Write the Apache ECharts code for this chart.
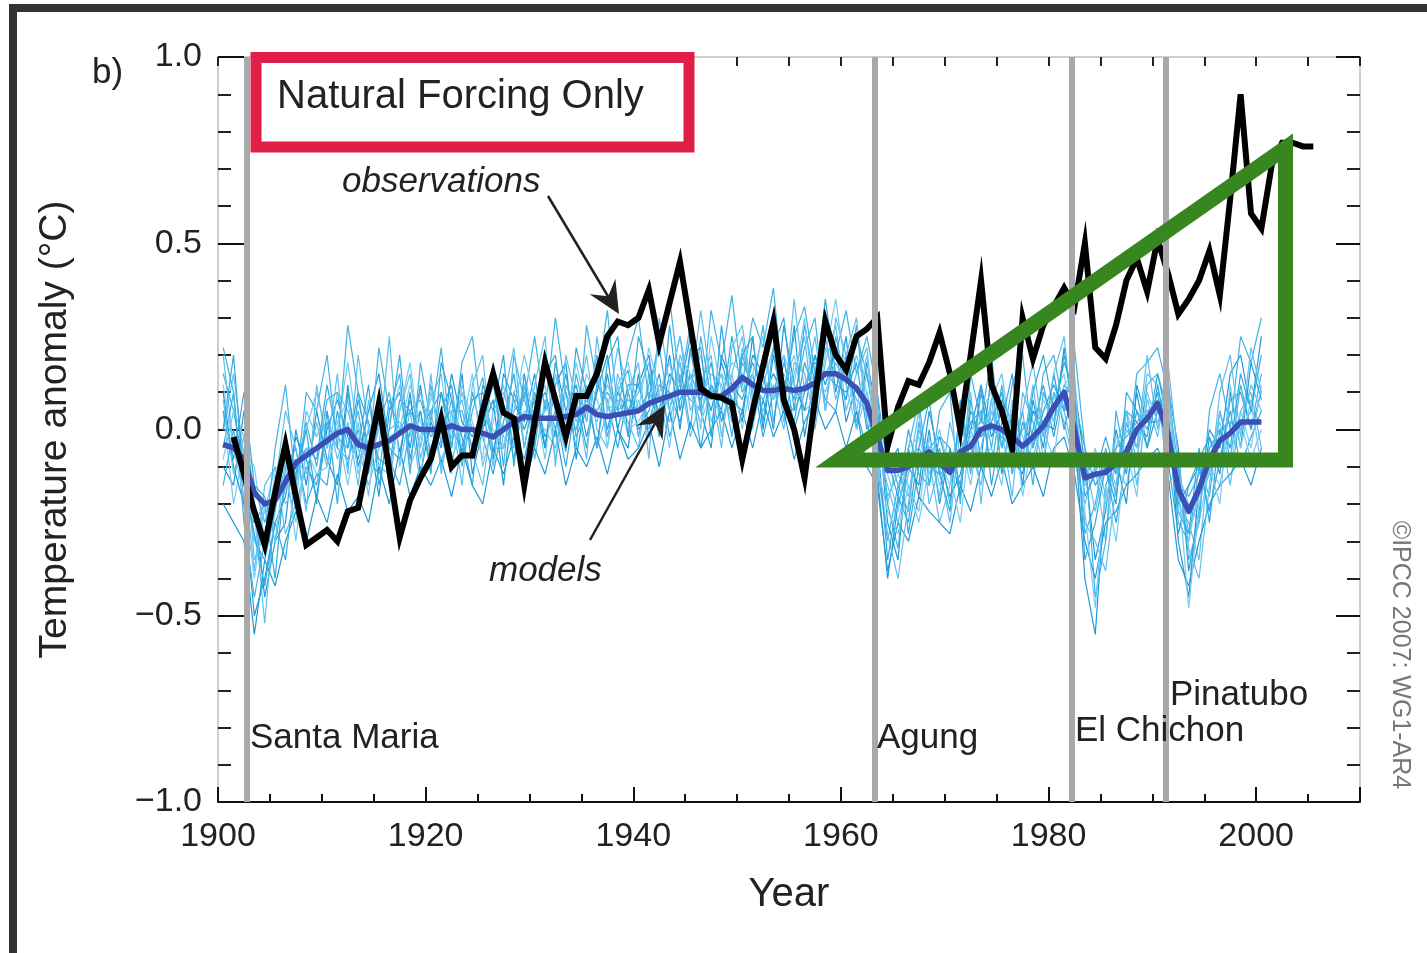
<!DOCTYPE html>
<html>
<head>
<meta charset="utf-8">
<title>Natural Forcing Only</title>
<script src="https://cdn.jsdelivr.net/npm/echarts@6/dist/echarts.min.js"></script>
<style>
  html, body { margin: 0; padding: 0; background: #fff; }
  #chart { width: 1427px; height: 953px; }
</style>
</head>
<body>
<div id="chart"></div>
<script>
// observations, one value per year from obsStart
var obsStart = 1901;
var observations = [
  -0.02, -0.12, -0.22, -0.31, -0.17, -0.04, -0.18, -0.31, -0.29, -0.27,
  -0.30, -0.22, -0.21, -0.07, 0.07, -0.11, -0.29, -0.19, -0.13, -0.08,
  0.03, -0.10, -0.07, -0.07, 0.05, 0.15, 0.045, 0.03, -0.15, 0.02,
  0.18, 0.08, -0.02, 0.09, 0.09, 0.15, 0.25, 0.29, 0.28, 0.30,
  0.375, 0.23, 0.34, 0.45, 0.28, 0.11, 0.09, 0.085, 0.07, -0.08,
  0.05, 0.17, 0.29, 0.08, 0.0, -0.13, 0.08, 0.29, 0.20, 0.16,
  0.25, 0.27, 0.30, -0.045, 0.06, 0.13, 0.12, 0.18, 0.26, 0.15,
  0.0, 0.20, 0.40, 0.12, 0.05, -0.05, 0.30, 0.19, 0.28, 0.33,
  0.38, 0.33, 0.50, 0.22, 0.19, 0.28, 0.40, 0.46, 0.37, 0.51,
  0.42, 0.31, 0.35, 0.40, 0.48, 0.36, 0.62, 0.90, 0.58, 0.54,
  0.71, 0.77, 0.77, 0.76, 0.76
];

// model ensemble mean and members, one value per year from modelStart
var modelStart = 1900;
var modelMean = [
  -0.04, -0.05, -0.08, -0.17, -0.20, -0.19, -0.14, -0.09, -0.07, -0.05,
  -0.03, -0.01, 0.00, -0.04, -0.05, -0.04, -0.03, -0.01, 0.01, 0.00,
  0.00, 0.00, 0.01, 0.00, 0.00, -0.01, -0.02, 0.00, 0.02, 0.035,
  0.03, 0.03, 0.03, 0.035, 0.04, 0.06, 0.04, 0.035, 0.04, 0.045,
  0.05, 0.07, 0.08, 0.09, 0.10, 0.10, 0.10, 0.09, 0.09, 0.11,
  0.14, 0.12, 0.105, 0.105, 0.11, 0.105, 0.11, 0.125, 0.15, 0.15,
  0.135, 0.11, 0.07, -0.02, -0.11, -0.11, -0.10, -0.08, -0.06, -0.09,
  -0.115, -0.06, -0.045, 0.00, 0.01, 0.00, -0.02, -0.045, -0.02, 0.01,
  0.06, 0.10, 0.00, -0.13, -0.12, -0.115, -0.09, -0.06, 0.00, 0.03,
  0.07, -0.01, -0.16, -0.22, -0.16, -0.08, -0.03, -0.01, 0.02, 0.02, 0.02
];

var member1 = [
  0.15, 0.05, -0.10, -0.30, -0.35, -0.22, -0.05, -0.12, 0.02, -0.10,
  0.08, 0.10, -0.05, 0.05, -0.12, 0.02, 0.10, -0.06, 0.08, -0.05,
  0.12, -0.04, 0.08, -0.10, 0.05, 0.14, -0.06, 0.06, -0.08, 0.12,
  0.00, 0.18, 0.05, -0.06, 0.15, 0.02, 0.20, -0.02, 0.10, 0.16,
  -0.02, 0.12, 0.22, 0.05, 0.18, 0.00, 0.25, 0.08, 0.15, -0.02,
  0.20, 0.10, 0.28, 0.02, 0.18, 0.08, 0.22, 0.30, 0.05, 0.25,
  0.12, 0.28, 0.02, -0.10, -0.30, -0.15, -0.22, 0.02, -0.12, -0.05,
  -0.20, 0.05, -0.12, 0.10, -0.05, 0.12, -0.10, 0.05, -0.15, 0.10,
  0.02, 0.20, 0.05, -0.28, -0.20, -0.05, -0.18, 0.02, -0.08, 0.12,
  0.15, 0.05, -0.25, -0.30, -0.10, -0.18, 0.05, -0.08, 0.12, 0.00, 0.15
];
var member2 = [
  -0.10, -0.15, 0.05, -0.20, -0.45, -0.30, -0.25, 0.00, -0.15, 0.05,
  -0.08, -0.15, 0.12, -0.10, 0.00, -0.18, 0.05, 0.10, -0.05, 0.12,
  -0.08, 0.10, -0.05, 0.15, -0.12, 0.00, 0.08, -0.15, 0.10, 0.02,
  0.15, -0.05, 0.12, 0.18, -0.08, 0.10, -0.05, 0.15, 0.00, -0.05,
  0.15, -0.02, 0.05, 0.20, 0.00, 0.22, 0.05, -0.05, 0.20, 0.12,
  0.02, 0.25, 0.00, 0.20, 0.05, 0.28, -0.02, 0.15, 0.32, 0.10,
  0.25, 0.00, 0.18, 0.05, -0.25, -0.35, -0.05, -0.18, 0.00, -0.20,
  -0.05, -0.18, 0.08, -0.08, 0.15, -0.12, 0.05, -0.15, 0.08, -0.05,
  0.15, 0.00, 0.12, -0.10, -0.35, -0.22, 0.00, -0.12, 0.10, -0.05,
  0.05, 0.12, -0.05, -0.38, -0.22, -0.02, -0.12, 0.10, -0.05, 0.18, 0.08
];
var member3 = [
  0.20, -0.05, -0.12, -0.38, -0.15, -0.10, -0.28, -0.20, 0.05, -0.02,
  0.05, -0.08, 0.02, -0.15, 0.08, -0.10, -0.12, 0.05, 0.15, -0.08,
  0.05, -0.10, 0.02, 0.08, -0.06, -0.15, 0.05, 0.10, 0.00, 0.12,
  -0.08, 0.08, -0.02, 0.12, 0.05, 0.20, 0.00, -0.05, 0.15, 0.05,
  0.10, 0.18, 0.00, 0.12, 0.25, 0.05, 0.12, 0.20, -0.02, 0.15,
  0.25, 0.05, 0.12, 0.22, 0.02, 0.15, 0.25, 0.00, 0.18, 0.28,
  0.05, 0.15, 0.22, -0.05, -0.15, -0.25, -0.12, 0.05, -0.20, -0.10,
  -0.25, 0.00, -0.05, -0.15, 0.05, 0.00, -0.18, 0.10, 0.02, -0.10,
  0.10, 0.05, -0.08, -0.20, -0.10, -0.30, -0.05, 0.05, -0.15, 0.08,
  -0.02, 0.15, -0.20, -0.25, -0.35, -0.05, 0.00, -0.15, 0.05, 0.10, -0.05
];
var member4 = [
  -0.05, 0.10, -0.20, -0.25, -0.20, -0.40, -0.10, -0.05, -0.20, -0.12,
  -0.15, 0.05, -0.10, 0.08, -0.05, 0.05, -0.08, -0.15, 0.00, 0.05,
  -0.10, 0.05, 0.12, -0.08, 0.10, -0.02, -0.12, 0.02, 0.15, -0.05,
  0.10, -0.02, 0.05, -0.10, 0.08, -0.05, 0.12, 0.08, -0.05, 0.10,
  0.00, 0.05, 0.15, -0.02, 0.08, 0.15, -0.05, 0.12, 0.05, 0.25,
  0.10, 0.15, -0.02, 0.10, 0.20, 0.00, 0.10, 0.20, 0.08, 0.05,
  0.20, 0.05, -0.05, 0.10, -0.10, -0.05, -0.28, -0.10, -0.05, -0.02,
  -0.12, -0.08, 0.02, 0.05, -0.10, 0.08, 0.02, -0.10, 0.00, 0.12,
  -0.02, 0.12, 0.08, -0.05, -0.15, -0.10, -0.25, -0.08, 0.05, 0.00,
  0.10, -0.08, -0.28, -0.15, -0.10, -0.22, -0.08, 0.05, -0.10, -0.02, 0.05
];
var member5 = [
  0.05, -0.20, -0.05, -0.10, -0.30, -0.12, -0.20, -0.15, 0.00, 0.10,
  -0.02, 0.00, 0.18, -0.02, -0.10, 0.00, 0.02, 0.12, -0.10, -0.02,
  0.08, 0.15, -0.08, 0.00, 0.15, -0.10, 0.02, 0.12, -0.05, 0.05,
  0.05, 0.12, -0.08, 0.05, 0.00, 0.15, 0.08, 0.00, 0.12, -0.02,
  0.08, 0.00, 0.10, 0.18, 0.05, 0.12, 0.20, 0.02, 0.10, 0.18,
  0.15, 0.00, 0.15, 0.08, 0.12, 0.20, 0.05, 0.08, 0.22, 0.15,
  0.08, 0.20, 0.10, 0.00, -0.20, -0.08, -0.15, -0.22, -0.02, -0.15,
  -0.08, -0.02, -0.15, 0.05, 0.10, -0.05, 0.05, -0.02, -0.08, 0.05,
  0.08, 0.15, -0.05, -0.15, -0.05, -0.18, -0.10, -0.15, 0.00, 0.05,
  0.08, -0.05, -0.12, -0.20, -0.25, -0.10, -0.15, 0.00, 0.02, -0.08, 0.00
];
var member6 = [
  -0.15, 0.00, -0.15, -0.15, -0.25, -0.15, -0.05, -0.20, -0.10, -0.15,
  0.02, -0.05, -0.08, 0.00, -0.08, -0.12, 0.08, 0.00, 0.05, 0.08,
  -0.02, 0.02, 0.05, 0.05, -0.05, 0.08, -0.05, -0.05, 0.05, 0.08,
  0.00, 0.05, 0.10, 0.00, 0.00, 0.08, 0.05, 0.10, 0.05, 0.08,
  0.05, 0.10, 0.05, 0.08, 0.12, 0.08, 0.05, 0.12, 0.08, 0.05,
  0.18, 0.12, 0.08, 0.15, 0.08, 0.05, 0.12, 0.18, 0.15, 0.20,
  0.15, 0.08, 0.05, -0.08, -0.05, -0.15, -0.08, -0.05, -0.10, -0.12,
  -0.10, -0.05, 0.00, 0.02, 0.00, -0.02, -0.05, 0.00, 0.05, -0.02,
  0.05, 0.08, 0.02, -0.12, -0.08, -0.12, -0.05, -0.02, 0.02, 0.05,
  0.05, 0.00, -0.15, -0.18, -0.12, -0.05, 0.00, 0.02, 0.00, 0.05, 0.02
];
var member7 = [
  0.10, -0.10, -0.20, -0.50, -0.40, -0.25, -0.18, -0.02, -0.08, -0.18,
  0.00, 0.08, -0.02, -0.08, 0.05, 0.15, -0.05, -0.08, 0.10, -0.12,
  0.02, -0.05, 0.15, 0.02, -0.02, 0.05, -0.08, 0.15, 0.08, 0.00,
  0.08, -0.05, 0.18, 0.05, 0.12, -0.02, 0.10, 0.20, 0.00, 0.12,
  0.12, 0.20, 0.02, 0.15, 0.10, 0.25, 0.15, 0.05, 0.18, 0.08,
  0.05, 0.20, 0.15, 0.00, 0.28, 0.12, 0.05, 0.20, 0.12, 0.22,
  0.02, 0.12, 0.08, -0.12, -0.40, -0.20, -0.10, -0.15, 0.05, -0.08,
  -0.18, -0.12, 0.00, 0.12, -0.02, 0.05, -0.08, -0.12, 0.05, 0.02,
  0.00, 0.22, 0.00, -0.40, -0.55, -0.15, -0.08, -0.20, 0.12, 0.02,
  0.02, 0.05, -0.30, -0.45, -0.15, 0.00, -0.05, 0.15, 0.20, 0.05, 0.25
];
var member8 = [
  0.00, 0.15, -0.08, -0.22, -0.52, -0.20, -0.10, -0.08, -0.12, 0.02,
  -0.10, 0.10, 0.05, -0.05, -0.15, -0.05, 0.00, 0.02, -0.02, 0.10,
  0.00, -0.08, -0.02, 0.10, 0.00, 0.02, 0.12, -0.02, -0.05, 0.10,
  0.02, 0.00, -0.05, 0.10, 0.02, 0.12, -0.05, 0.05, 0.08, 0.02,
  -0.05, 0.15, 0.08, 0.02, 0.15, -0.02, 0.08, 0.15, 0.12, 0.02,
  0.22, 0.10, 0.05, 0.12, 0.00, 0.18, 0.15, 0.02, 0.25, 0.08,
  0.18, 0.02, 0.15, -0.02, -0.18, -0.12, -0.18, 0.00, -0.08, -0.25,
  -0.15, 0.02, -0.08, -0.05, 0.08, -0.10, 0.00, -0.05, 0.12, -0.08,
  0.10, 0.02, -0.10, -0.08, -0.22, -0.08, -0.15, 0.00, -0.05, 0.15,
  0.12, -0.15, -0.10, -0.28, -0.18, -0.12, 0.05, -0.05, 0.00, 0.12, 0.05
];
var member9 = [
  0.05, -0.08, 0.10, -0.15, -0.18, -0.30, -0.15, -0.10, -0.05, -0.08,
  0.12, -0.02, -0.05, 0.10, 0.02, -0.08, -0.10, 0.08, 0.05, 0.00,
  0.05, 0.10, 0.00, -0.05, 0.08, 0.10, -0.02, 0.05, 0.00, -0.08,
  0.05, 0.10, 0.00, 0.15, -0.02, 0.05, 0.15, 0.00, 0.10, 0.05,
  0.12, 0.02, 0.12, 0.10, 0.02, 0.15, 0.08, 0.18, 0.02, 0.12,
  0.08, 0.18, 0.10, 0.15, 0.10, 0.02, 0.18, 0.10, 0.15, 0.12,
  0.10, 0.18, 0.00, 0.05, -0.08, -0.18, 0.00, -0.12, -0.15, -0.02,
  -0.05, -0.15, 0.05, -0.02, 0.02, 0.10, -0.12, 0.02, -0.05, 0.05,
  0.12, 0.05, 0.08, -0.18, -0.12, -0.02, -0.12, 0.05, 0.02, -0.02,
  0.15, 0.02, -0.20, -0.15, -0.08, -0.02, -0.10, 0.08, 0.10, 0.00, 0.10
];
var member10 = [
  -0.08, 0.05, -0.02, -0.30, -0.22, -0.10, -0.12, -0.25, -0.05, -0.05,
  -0.05, 0.02, 0.08, -0.12, 0.00, 0.05, -0.02, 0.00, 0.12, 0.02,
  -0.05, 0.00, 0.10, -0.05, -0.08, 0.05, 0.00, -0.05, 0.10, 0.15,
  0.02, 0.05, 0.08, -0.02, 0.10, 0.08, 0.02, 0.12, 0.05, 0.00,
  0.02, 0.08, 0.12, 0.05, 0.20, 0.10, 0.02, 0.10, 0.15, 0.10,
  0.12, 0.05, 0.20, 0.10, 0.15, 0.08, 0.10, 0.15, 0.10, 0.18,
  0.12, 0.00, 0.10, -0.05, -0.12, -0.22, -0.05, -0.02, -0.12, -0.08,
  -0.15, -0.05, -0.02, 0.00, 0.05, -0.05, 0.02, -0.08, -0.02, 0.08,
  0.02, 0.10, 0.05, -0.15, -0.10, -0.20, -0.02, -0.05, -0.08, 0.08,
  0.05, 0.08, -0.18, -0.30, -0.15, -0.08, 0.02, -0.10, 0.05, -0.05, 0.12
];
var member11 = [
  0.22, 0.10, -0.25, -0.45, -0.30, -0.05, 0.12, -0.15, 0.10, 0.05,
  0.20, -0.05, 0.28, 0.10, -0.08, 0.22, 0.05, 0.15, -0.12, 0.18,
  0.02, 0.22, -0.05, 0.18, 0.25, 0.00, 0.15, -0.10, 0.20, 0.08,
  0.25, 0.05, 0.30, 0.10, -0.05, 0.28, 0.12, 0.32, 0.05, 0.20,
  0.30, 0.08, 0.25, 0.35, 0.12, 0.28, 0.05, 0.32, 0.18, 0.36,
  0.12, 0.30, 0.22, 0.38, 0.10, 0.25, 0.33, 0.15, 0.30, 0.20,
  0.32, 0.15, 0.25, 0.10, -0.20, -0.32, -0.05, 0.08, -0.15, 0.05,
  0.10, -0.20, 0.15, 0.02, 0.20, -0.05, 0.12, 0.20, -0.05, 0.15,
  0.20, 0.05, 0.22, -0.05, -0.45, -0.30, 0.05, -0.10, 0.15, 0.18,
  0.22, 0.10, -0.10, -0.35, -0.25, 0.05, 0.15, 0.00, 0.25, 0.18, 0.30
];
var member12 = [
  -0.20, -0.25, -0.30, -0.55, -0.35, -0.42, -0.30, -0.22, -0.30, -0.18,
  -0.25, -0.12, -0.22, -0.18, -0.25, -0.10, -0.20, -0.05, -0.18, -0.10,
  -0.15, -0.08, -0.18, -0.05, -0.15, -0.20, -0.05, -0.12, -0.02, -0.15,
  -0.05, -0.12, 0.00, -0.15, -0.05, -0.10, -0.02, -0.12, 0.00, -0.08,
  -0.05, 0.02, -0.10, 0.05, -0.08, 0.02, -0.05, 0.00, 0.05, -0.05,
  0.05, -0.05, 0.08, -0.02, 0.05, -0.08, 0.02, 0.08, 0.00, 0.05,
  -0.05, 0.05, -0.10, -0.15, -0.38, -0.25, -0.30, -0.18, -0.22, -0.25,
  -0.28, -0.15, -0.22, -0.10, -0.18, -0.08, -0.20, -0.15, -0.10, -0.18,
  -0.05, -0.02, -0.12, -0.30, -0.40, -0.25, -0.22, -0.15, -0.12, -0.08,
  -0.05, -0.12, -0.35, -0.42, -0.30, -0.20, -0.15, -0.12, -0.08, -0.15, -0.05
];
var member13 = [
  0.08, -0.12, -0.02, -0.35, -0.28, -0.15, 0.05, -0.05, -0.22, 0.12,
  -0.05, 0.15, -0.12, 0.20, 0.00, -0.05, 0.25, -0.10, 0.05, -0.15,
  0.15, -0.12, 0.05, -0.15, 0.12, 0.20, -0.10, 0.08, 0.22, -0.05,
  0.12, 0.25, -0.10, 0.20, 0.08, -0.08, 0.25, 0.05, 0.22, 0.10,
  0.18, -0.08, 0.30, 0.12, 0.25, 0.10, 0.32, 0.12, -0.05, 0.22,
  0.28, 0.08, 0.18, 0.30, 0.05, 0.35, 0.10, 0.25, 0.05, 0.30,
  0.20, 0.30, 0.05, -0.08, -0.28, -0.40, -0.20, 0.00, -0.05, -0.18,
  0.02, -0.10, 0.10, -0.20, 0.08, 0.15, -0.05, 0.05, 0.18, -0.02,
  0.15, 0.25, -0.02, -0.25, -0.30, -0.38, -0.15, 0.05, -0.05, 0.20,
  0.00, 0.18, -0.08, -0.32, -0.40, -0.15, 0.10, 0.20, -0.02, 0.22, 0.10
];
var member14 = [
  0.00, 0.20, -0.15, -0.28, -0.42, -0.25, -0.35, -0.12, 0.00, -0.20,
  0.05, -0.20, 0.10, -0.05, 0.12, -0.15, 0.00, 0.20, -0.08, 0.05,
  -0.12, 0.18, 0.08, -0.02, -0.15, 0.12, 0.05, 0.20, -0.10, 0.15,
  -0.05, 0.15, 0.20, -0.05, 0.22, 0.10, -0.05, 0.18, 0.25, -0.02,
  0.25, 0.15, -0.02, 0.28, 0.05, 0.20, 0.22, -0.02, 0.28, 0.05,
  0.20, 0.25, 0.02, 0.22, 0.30, 0.05, 0.28, 0.12, 0.35, 0.15,
  0.08, 0.25, 0.15, -0.02, -0.35, -0.18, -0.25, -0.05, 0.08, -0.12,
  -0.22, 0.08, -0.10, 0.12, -0.15, 0.02, 0.15, -0.08, 0.10, 0.20,
  0.05, 0.18, 0.10, -0.35, -0.25, -0.10, -0.20, 0.10, 0.05, -0.05,
  0.12, -0.02, -0.22, -0.28, -0.05, -0.25, 0.00, -0.05, 0.15, 0.05, 0.20
];
var member15 = [
  0.12, -0.05, -0.18, -0.40, -0.20, -0.30, -0.08, -0.30, -0.05, -0.12,
  -0.10, 0.00, -0.15, 0.02, -0.18, 0.08, -0.15, 0.05, 0.18, -0.05,
  0.10, -0.02, -0.12, 0.12, 0.02, -0.08, 0.18, -0.05, 0.05, 0.20,
  0.08, -0.08, 0.15, 0.02, 0.18, 0.05, 0.18, -0.05, 0.12, 0.18,
  0.05, 0.22, 0.10, -0.05, 0.20, 0.15, 0.00, 0.25, 0.10, 0.15,
  0.00, 0.15, 0.25, 0.08, 0.20, 0.12, 0.30, 0.05, 0.20, 0.35,
  0.15, 0.05, 0.20, -0.10, -0.22, -0.28, -0.15, -0.25, -0.10, 0.00,
  -0.12, -0.25, 0.00, -0.08, -0.05, -0.15, 0.08, -0.18, -0.02, 0.00,
  -0.08, 0.12, 0.15, -0.22, -0.48, -0.15, -0.30, -0.05, -0.18, 0.10,
  0.02, 0.10, -0.15, -0.48, -0.20, -0.10, -0.20, 0.12, -0.05, 0.08, -0.10
];
var members = [member1, member2, member3, member4, member5, member6, member7, member8,
  member9, member10, member11, member12, member13, member14, member15];

// volcanic eruptions
var volcanoNames = ['Santa Maria', 'Agung', 'El Chichon', 'Pinatubo'];
var volcanoYears = [1902.8, 1963.3, 1982.2, 1991.3];

var yTicks = [-1.0, -0.5, 0.0, 0.5, 1.0];

function toPairs(start, values) {
  // annual means are plotted at mid-year
  return values.map(function (v, i) { return [start + i + 0.5, v]; });
}

var chart = echarts.init(document.getElementById('chart'), null, { renderer: 'canvas' });

var FONT = '"Liberation Sans", Arial, Helvetica, sans-serif';
var TXT = '#222';
var memberColors = ['#3fb2e6', '#1f9ad6', '#5ec0ee', '#2fa8df', '#74caf1'];

var series = [];
// volcano lines (drawn first, below the curves)
series.push({
  type: 'line',
  data: [],
  z: 1,
  markLine: {
    silent: true,
    symbol: ['none', 'none'],
    label: { show: false },
    lineStyle: { color: '#a9a9a9', width: 6, type: 'solid' },
    data: volcanoYears.map(function (y) { return { xAxis: y }; })
  }
});
members.forEach(function (m, k) {
  series.push({
    type: 'line',
    data: toPairs(modelStart, m),
    showSymbol: false,
    silent: true,
    z: 2,
    lineStyle: { color: memberColors[k % memberColors.length], width: 1.2 }
  });
});
series.push({
  name: 'models',
  type: 'line',
  data: toPairs(modelStart, modelMean),
  showSymbol: false,
  z: 3,
  lineStyle: { color: '#3c4fb4', width: 5.5, join: 'round' }
});
series.push({
  name: 'observations',
  type: 'line',
  data: toPairs(obsStart, observations),
  showSymbol: false,
  z: 4,
  lineStyle: { color: '#000', width: 6, join: 'miter' }
});

function arrowHead(tip, from, len, half) {
  var dx = tip[0] - from[0], dy = tip[1] - from[1];
  var d = Math.sqrt(dx * dx + dy * dy);
  var ux = dx / d, uy = dy / d, px = -uy, py = ux;
  var bx = tip[0] - len * ux, by = tip[1] - len * uy;
  var nx = tip[0] - len * 0.65 * ux, ny = tip[1] - len * 0.65 * uy;
  return [tip, [bx + half * px, by + half * py], [nx, ny], [bx - half * px, by - half * py]];
}

var obsArrowFrom = [548, 196], obsArrowTip = [619, 314];
var modArrowFrom = [590, 540], modArrowTip = [665, 405];

function label(text, x, y, size, extra) {
  var st = { text: text, x: 0, y: 0, font: size + 'px ' + FONT, fill: TXT, align: 'left', verticalAlign: 'middle' };
  if (extra) { for (var k in extra) st[k] = extra[k]; }
  return { type: 'text', x: x, y: y, z: 50, style: st };
}

var volcanoLabelPos = [[250, 738], [877, 738], [1075, 731], [1170, 695]];

var graphics = [
  // outer frame
  { type: 'rect', z: 60, shape: { x: 9, y: 4, width: 1418, height: 8 }, style: { fill: '#333' } },
  { type: 'rect', z: 60, shape: { x: 9, y: 4, width: 8, height: 949 }, style: { fill: '#333' } },
  // title box
  { type: 'rect', z: 40, shape: { x: 256, y: 57.5, width: 433, height: 89.5 }, style: { fill: '#fff', stroke: '#e01f48', lineWidth: 11 } },
  label('Natural Forcing Only', 277, 97, 40),
  label('b)', 92, 73, 35),
  label('observations', 342, 182, 35, { font: 'italic 35px ' + FONT }),
  label('models', 489, 571, 35, { font: 'italic 35px ' + FONT }),
  // arrows
  { type: 'line', z: 45, shape: { x1: obsArrowFrom[0], y1: obsArrowFrom[1], x2: obsArrowTip[0] - 10, y2: obsArrowTip[1] - 16 }, style: { stroke: '#222', lineWidth: 2.5 } },
  { type: 'polygon', z: 45, shape: { points: arrowHead(obsArrowTip, obsArrowFrom, 32, 15) }, style: { fill: '#222' } },
  { type: 'line', z: 45, shape: { x1: modArrowFrom[0], y1: modArrowFrom[1], x2: modArrowTip[0] - 8, y2: modArrowTip[1] + 15 }, style: { stroke: '#222', lineWidth: 2.5 } },
  { type: 'polygon', z: 45, shape: { points: arrowHead(modArrowTip, modArrowFrom, 32, 15) }, style: { fill: '#222' } },
  // green triangle
  { type: 'polygon', z: 45, shape: { points: [[839, 460], [1285.5, 148], [1285.5, 460]] }, style: { fill: 'none', stroke: '#38861f', lineWidth: 15, lineJoin: 'miter', miterLimit: 10 } },
  // copyright
  { type: 'text', z: 50, x: 1400, y: 655, rotation: -Math.PI / 2,
    style: { text: '\u00a9IPCC 2007: WG1-AR4', font: '25px ' + FONT, fill: '#777', align: 'center', verticalAlign: 'middle' } }
];
volcanoNames.forEach(function (n, i) {
  graphics.push(label(n, volcanoLabelPos[i][0], volcanoLabelPos[i][1], 35));
});

var baseX = { type: 'value', min: 1900, max: 2010, splitLine: { show: false } };
function xAxisCfg(extra) {
  var o = {};
  for (var k in baseX) o[k] = baseX[k];
  for (var j in extra) o[j] = extra[j];
  return o;
}

var option = {
  animation: false,
  backgroundColor: '#fff',
  grid: { left: 218, right: 67, top: 57, bottom: 151, containLabel: false, outerBoundsMode: 'none' },
  xAxis: [
    xAxisCfg({
      position: 'bottom', interval: 5,
      name: 'Year', nameLocation: 'middle', nameGap: 73,
      nameTextStyle: { fontSize: 40, color: TXT, fontFamily: FONT },
      axisLine: { show: true, onZero: false, lineStyle: { color: '#111', width: 2 } },
      axisTick: { show: true, inside: true, length: 8, lineStyle: { color: '#111', width: 2 } },
      axisLabel: {
        show: true, margin: 18, fontSize: 34, color: TXT, fontFamily: FONT,
        showMinLabel: true, showMaxLabel: true,
        formatter: function (v) { return v % 20 === 0 ? String(v) : ''; }
      }
    }),
    xAxisCfg({
      position: 'top', interval: 5,
      axisLine: { show: true, onZero: false, lineStyle: { color: '#cfcfcf', width: 2 } },
      axisTick: { show: true, inside: true, length: 9, lineStyle: { color: '#222', width: 2 } },
      axisLabel: { show: false }
    }),
    xAxisCfg({
      position: 'bottom', interval: 20,
      axisLine: { show: false, onZero: false },
      axisTick: { show: true, inside: true, length: 15, lineStyle: { color: '#111', width: 2 } },
      axisLabel: { show: false }
    })
  ],
  yAxis: [
    {
      type: 'value', position: 'left', min: yTicks[0], max: yTicks[yTicks.length - 1], interval: 0.5,
      name: 'Temperature anomaly (\u00b0C)', nameLocation: 'middle', nameGap: 143,
      nameTextStyle: { fontSize: 39, color: TXT, fontFamily: FONT },
      splitLine: { show: false },
      axisLine: { show: true, onZero: false, lineStyle: { color: '#cfcfcf', width: 2 } },
      axisTick: { show: true, inside: true, length: 26, lineStyle: { color: '#111', width: 2 } },
      minorTick: { show: true, splitNumber: 5, length: 13, lineStyle: { color: '#222', width: 2 } },
      axisLabel: {
        margin: 16, fontSize: 34, color: TXT, fontFamily: FONT,
        formatter: function (v) { return (v < 0 ? '\u2212' : '') + Math.abs(v).toFixed(1); }
      }
    },
    {
      type: 'value', position: 'right', min: yTicks[0], max: yTicks[yTicks.length - 1], interval: 0.5,
      splitLine: { show: false },
      axisLine: { show: true, onZero: false, lineStyle: { color: '#cfcfcf', width: 2 } },
      axisTick: { show: true, inside: true, length: 24, lineStyle: { color: '#111', width: 2 } },
      minorTick: { show: true, splitNumber: 5, length: 13, lineStyle: { color: '#222', width: 2 } },
      axisLabel: { show: false }
    }
  ],
  graphic: graphics,
  series: series
};

chart.setOption(option);
</script>
</body>
</html>
